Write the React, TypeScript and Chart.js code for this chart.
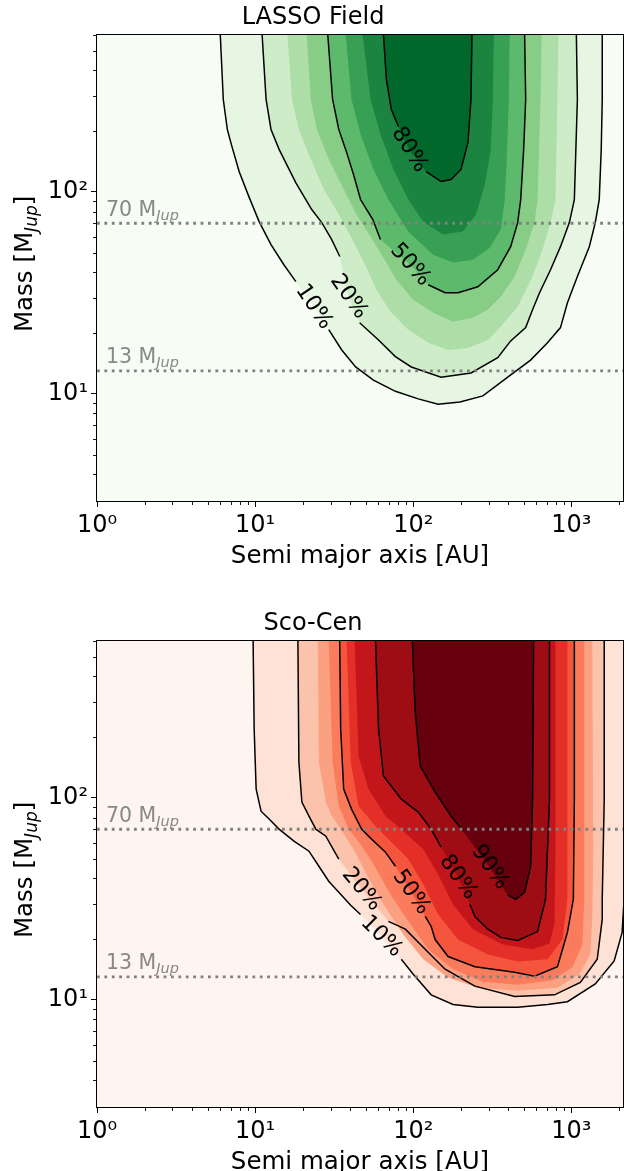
import React, { useEffect, useRef } from 'react';
import { Chart, registerables } from 'chart.js';

Chart.register(...registerables);
Chart.defaults.font.family = "'DejaVu Sans', sans-serif";
Chart.defaults.color = '#000';

type Pt = [number, number] | null;

// ---------- axes ----------
const X_MIN = 1;
const X_MAX = 2120;
const Y_MIN = 2.95;
const Y_MAX = 600;
const MASS_LINES = [70, 13];
const MASS_LINE_TEXT = ['70', '13'];

// ---------- LASSO Field (semi-major axis [AU], mass [MJup]); null = label gap ----------
const LASSO_LEVELS = [10, 20, 30, 40, 50, 60, 70, 80];
const LASSO_LINE_LEVELS = [10, 20, 50, 80];
const LASSO_COLORS = ['#f7fcf5', '#e7f6e2', '#ceecc7', '#aedea7', '#88cd86', '#5db96b', '#37a055', '#1b8440', '#00682a'];
const LASSO_10: Pt[] = [[6.02,600],[6.29,287],[6.67,204],[7.07,172],[7.93,126],[9.17,94],[10.6,71.3],[12.6,54.8],[15.2,43.6],[18.1,36.0],null,[29.2,20.8],[35.3,16.5],[43.2,13.6],[56.0,11.7],[77.1,10.3],[107.5,9.45],[143.6,8.9],[197.5,9.13],[275.6,9.78],[395.8,12.1],[552,14.7],[706,17.9],[853,21.3],[944,28.3],[1091,38.1],[1298,53.6],[1416,70.5],[1500,91.7],[1544,162],[1567,287],[1567,600]];
const LASSO_20: Pt[] = [[11.07,600],[11.73,287],[12.6,204],[14.2,162],[18.1,111],[22.8,81.8],[26.4,70.5],[30.5,58.1],[34.3,47.9],null,[45.8,22.5],[60.3,18.5],[77.1,15.3],[97.1,13.6],[150,12.1],[232,12.7],[342,15.1],[413,18.3],[514,21.3],[568,26.1],[629,31.7],[738,41.2],[853,53.6],[971,70.5],[1044,91.7],[1091,287],[1075,600]];
const LASSO_30: Pt[] = [[16.0,600],[17.1,287],[18.9,204],[22.5,145],[27.2,103],[33.8,77.3],[40.2,60.1],[48.5,45.2],[58.5,32.8],[71.7,25.5],[93.0,20.8],[124.3,17.9],[166,16.5],[222,16.9],[296,18.5],[357.5,21.5],[457.5,27.0],[568,38.1],[657,51.8],[738,70.5],[793,91.7],[816,287],[828,600]];
const LASSO_40: Pt[] = [[21.2,600],[22.5,287],[24.6,204],[29.2,145],[36.3,103],[43.7,77.3],[53.7,60.1],[64.8,47.3],[78.2,36.8],[100,29.3],[133.6,25.2],[178.5,22.8],[238.5,23.8],[296,26.1],[357.5,30.3],[438,38.1],[514,51.8],[585,70.5],[611,91.7],[638,287],[648,600]];
const LASSO_50: Pt[] = [[28.8,600],[30.9,287],[33.8,204],[37.4,162],[41.9,122],[46.4,91.7],[55.5,73.0],[62.0,58.1],null,[124.3,34.7],[159,31.7],[192,31.7],[256,33.9],[342,41.2],[413,53.6],[457.5,70.5],[478,91.7],[499,162],[514,287],[506,600]];
const LASSO_60: Pt[] = [[37.4,600],[40.7,287],[46.4,193],[56.0,129],[69.6,91.7],[93.0,63.7],[133.6,48.9],[178.5,44.7],[238.5,46.2],[305,53.0],[357.5,65.1],[379,91.7],[390,145],[402,287],[407,600]];
const LASSO_70: Pt[] = [[47.8,600],[53.7,287],[62.0,193],[74.9,129],[93.0,91.7],[115.6,71.3],[154.4,61.5],[206.3,63.7],[249,77.3],[283.7,108.9],[309,162],[318.6,287],[323,600]];
const LASSO_80: Pt[] = [[64.8,600],[67.6,361],[72.7,256],[80.5,211],null,[120.7,126],[150,112.6],[173.4,115.2],[200.4,129.2],[221.8,176],[231.7,287],[235,600]];
const LASSO_CONTOURS = [LASSO_10, LASSO_20, LASSO_30, LASSO_40, LASSO_50, LASSO_60, LASSO_70, LASSO_80];
const LASSO_LABELS = [
  { level: 10, a: 23.5, m: 27.0, rot: 56 },
  { level: 20, a: 39.0, m: 30.3, rot: 55 },
  { level: 50, a: 95.7, m: 43.6, rot: 48 },
  { level: 80, a: 94.4, m: 162, rot: 58 },
];

// ---------- Sco-Cen ----------
const SCO_LEVELS = [10, 20, 30, 40, 50, 60, 70, 80, 90];
const SCO_LINE_LEVELS = [10, 20, 50, 80, 90];
const SCO_COLORS = ['#fff5f0', '#fee2d5', '#fcc3ac', '#fca082', '#fb7c5c', '#f6553d', '#e32f27', '#c3161b', '#9e0d14', '#67000d'];
const SCO_10: Pt[] = [[9.71,600],[9.86,219.5],[10.15,110.7],[10.9,86.0],[12.25,78.6],[14.16,70.1],[17.6,61.1],[21.9,54.5],[25.3,45.9],[29.2,38.7],[33.8,34.1],[40.2,29.4],[46.4,26.5],null,[84.0,15.9],[100,13.4],[129.8,10.6],[178.5,9.5],[256,9.2],[457.5,9.2],[706.5,9.5],[943.6,9.8],[1416,12.0],[1864,15.6],[2094,21.6],[2154,31.5],[2600,60],[2600,600]];
const SCO_20: Pt[] = [[18.64,600],[18.91,150.6],[19.75,95.4],[21.9,81.3],[24.2,70.1],[28.0,64.7],[33.8,49.8],null,[69.6,24.5],[89.1,22.4],[119,17.8],[159,14.2],[245.4,11.7],[438,10.4],[782,10.6],[1139,12.2],[1457,15.9],[1567,25.1],[1567,31.5],[1613,98.7],[1613,600]];
const SCO_30: Pt[] = [[24.9,600],[25.3,150.6],[28.0,95.4],[30.5,81.3],[34.8,70.1],[41.9,55.8],[50.6,41.9],[64.8,29.7],[86.5,21.1],[115.6,15.9],[166,12.9],[256,11.5],[457.5,11.1],[816,11.5],[1123,13.4],[1317,16.8],[1356,25.1],[1375,55.8],[1356,600]];
const SCO_40: Pt[] = [[29.2,600],[30.9,150.6],[33.8,91.1],[39.0,70.1],[46.4,59.0],[56.0,47.0],[71.7,33.3],[93.0,24.5],[124.3,17.8],[178.5,14.2],[275.6,12.3],[457.5,11.9],[760,12.5],[1015,14.5],[1173,18.8],[1207,31.5],[1207,600]];
const SCO_50: Pt[] = [[34.25,600],[34.75,219.5],[36.3,110.7],[40.7,88.1],[47.1,70.1],[52.1,64.7],[66.7,53.9],[77.1,45.9],null,[119,25.9],[129.8,23.1],[137.5,19.9],[166,16.4],[245.4,14.6],[438,13.7],[585,13.1],[816.5,14.6],[943.6,21.6],[1029,31.5],[1044,98.7],[1044,600]];
const SCO_60: Pt[] = [[37.9,600],[40.2,150.6],[45.1,91.1],[58.5,71.7],[74.9,59.0],[93.0,49.8],[115.6,37.4],[143.6,26.5],[191.9,19.9],[296.3,16.8],[457.5,15.5],[706.5,15.9],[878,19.9],[943.6,31.5],[943.6,600]];
const SCO_70: Pt[] = [[42.6,600],[45.1,161.3],[52.1,110.7],[66.7,81.3],[86.5,68.5],[115.6,55.8],[143.6,41.9],[178.5,29.7],[238.5,22.4],[368,18.8],[568.5,17.8],[727,19.0],[782,23.7],[793,55.8],[793,600]];
const SCO_80: Pt[] = [[57.7,600],[60.3,219.5],[64.8,128.4],[84.0,98.7],[107.5,85.1],[129.8,70.1],[150,57.1],null,[228.3,29.7],[245.4,25.9],[296.3,22.4],[357.5,20.4],[457.5,19.7],[611.3,21.8],[686,31.5],[727,98.7],[727,600]];
const SCO_90: Pt[] = [[98.6,600],[102.9,266.6],[110.7,143.9],[137.5,106.9],[173.4,81.3],[206.3,68.5],null,[395.8,33.0],[444.4,31.5],[506.2,34.1],[552.3,45.9],[568.5,98.7],[576.8,600]];
const SCO_CONTOURS = [SCO_10, SCO_20, SCO_30, SCO_40, SCO_50, SCO_60, SCO_70, SCO_80, SCO_90];
const SCO_LABELS = [
  { level: 10, a: 62.9, m: 20.6, rot: 45 },
  { level: 20, a: 47.1, m: 35.3, rot: 50 },
  { level: 50, a: 97.1, m: 34.1, rot: 55 },
  { level: 80, a: 191.9, m: 40.5, rot: 55 },
  { level: 90, a: 305, m: 45.4, rot: 55 },
];

type Label = { level: number; a: number; m: number; rot: number };

const SUP: Record<string, string> = { '0': '\u2070', '1': '\u00b9', '2': '\u00b2', '3': '\u00b3' };
const isDecade = (v: number) => { const l = Math.log10(v); return Math.abs(l - Math.round(l)) < 1e-9; };
const decadeLabel = (v: number) => (isDecade(v) ? '10' + String(Math.round(Math.log10(v))).split('').map((c) => SUP[c] || c).join('') : '');
const isMinor = (v: number) => {
  const e = Math.floor(Math.log10(v) + 1e-9);
  const s = v / Math.pow(10, e);
  return Math.abs(s - Math.round(s)) < 1e-6 && Math.round(s) > 1 && Math.round(s) < 10;
};

function buildDatasets(levels: number[], contours: Pt[][], lineLevels: number[], colors: string[], labels: Label[]) {
  const ds: any[] = [];
  MASS_LINES.forEach((m) =>
    ds.push({ data: [{ x: X_MIN, y: m }, { x: X_MAX, y: m }], borderColor: '#808080', borderWidth: 2.8, borderDash: [2.8, 4.6], borderCapStyle: 'butt', fill: false, pointRadius: 0 })
  );
  levels.forEach((lv, i) => {
    if (!lineLevels.includes(lv)) return;
    const lab = labels.find((l) => l.level === lv);
    ds.push({
      data: contours[i].map((p) => (p ? { x: p[0], y: p[1] } : { x: lab ? lab.a : 1, y: null })),
      borderColor: '#000', borderWidth: 1.5, fill: false, pointRadius: 0, spanGaps: false,
    });
  });
  for (let i = levels.length - 1; i >= 0; i--) {
    const lab = labels.find((l) => l.level === levels[i]);
    const pts = contours[i]
      .map((p) => (p ? { x: p[0], y: p[1] } : lab ? { x: lab.a, y: lab.m } : null))
      .filter((p) => p !== null);
    ds.push({ data: pts, borderWidth: 0, borderColor: 'rgba(0,0,0,0)', backgroundColor: colors[i + 1], fill: 'shape', pointRadius: 0 });
  }
  return ds;
}

function drawSub(ctx: CanvasRenderingContext2D, main: string, sub: string, x: number, y: number, size: number, subSize: number, shift: number, color: string) {
  ctx.fillStyle = color;
  ctx.textAlign = 'left';
  ctx.textBaseline = 'alphabetic';
  ctx.font = `${size}px 'DejaVu Sans'`;
  ctx.fillText(main, x, y);
  const w = ctx.measureText(main).width;
  ctx.font = `italic ${subSize}px 'DejaVu Sans'`;
  ctx.fillText(sub, x + w, y + shift);
}

function makeOverlay(bg: string, labels: Label[]) {
  return {
    id: 'overlay',
    beforeDraw(chart: any) {
      const { ctx, chartArea: ca } = chart;
      ctx.save();
      ctx.fillStyle = bg;
      ctx.fillRect(ca.left, ca.top, ca.right - ca.left, ca.bottom - ca.top);
      ctx.restore();
    },
    afterDatasetsDraw(chart: any) {
      const { ctx, chartArea: ca, scales } = chart;
      const xs = scales.x;
      const ys = scales.y;
      ctx.save();
      // contour labels
      ctx.font = "22px 'DejaVu Sans'";
      ctx.fillStyle = '#000';
      ctx.textAlign = 'center';
      ctx.textBaseline = 'middle';
      labels.forEach((l) => {
        ctx.save();
        ctx.translate(xs.getPixelForValue(l.a), ys.getPixelForValue(l.m));
        ctx.rotate((l.rot * Math.PI) / 180);
        ctx.fillText(l.level + '%', 0, 0);
        ctx.restore();
      });
      // mass limit labels
      MASS_LINES.forEach((m, i) => {
        drawSub(ctx, MASS_LINE_TEXT[i] + ' M', 'Jup', ca.left + 9, ys.getPixelForValue(m) - 7.5, 20.5, 14.5, 4, '#888888');
      });
      // frame
      const L = Math.round(ca.left) - 0.5, R = Math.round(ca.right) + 0.5;
      const T = Math.round(ca.top) - 0.5, B = Math.round(ca.bottom) + 0.5;
      ctx.strokeStyle = '#000';
      ctx.lineWidth = 1;
      ctx.strokeRect(L, T, R - L, B - T);
      // minor ticks
      ctx.lineWidth = 0.9;
      ctx.beginPath();
      xs.ticks.forEach((t: any) => {
        if (!isMinor(t.value) || t.value < X_MIN || t.value > X_MAX) return;
        const p = Math.round(xs.getPixelForValue(t.value)) + 0.5;
        ctx.moveTo(p, B);
        ctx.lineTo(p, B + 3.5);
      });
      ys.ticks.forEach((t: any) => {
        if (!isMinor(t.value) || t.value < Y_MIN || t.value > Y_MAX) return;
        const p = Math.round(ys.getPixelForValue(t.value)) + 0.5;
        ctx.moveTo(L, p);
        ctx.lineTo(L - 3.5, p);
      });
      ctx.stroke();
      // y-axis title
      ctx.save();
      ctx.translate(31.5, (ca.top + ca.bottom) / 2 - 4);
      ctx.rotate(-Math.PI / 2);
      ctx.font = "24.5px 'DejaVu Sans'";
      const w1 = ctx.measureText('Mass [M').width;
      const w3 = ctx.measureText(']').width;
      ctx.font = "italic 17px 'DejaVu Sans'";
      const w2 = ctx.measureText('Jup').width;
      const x0 = -(w1 + w2 + w3) / 2;
      ctx.fillStyle = '#000';
      ctx.textAlign = 'left';
      ctx.textBaseline = 'alphabetic';
      ctx.font = "24.5px 'DejaVu Sans'";
      ctx.fillText('Mass [M', x0, 0);
      ctx.font = "italic 17px 'DejaVu Sans'";
      ctx.fillText('Jup', x0 + w1, 5);
      ctx.font = "24.5px 'DejaVu Sans'";
      ctx.fillText(']', x0 + w1 + w2, 0);
      ctx.restore();
      ctx.restore();
    },
  };
}

function ContourPanel(props: { top: number; title: string; levels: number[]; contours: Pt[][]; lineLevels: number[]; colors: string[]; labels: Label[] }) {
  const ref = useRef<HTMLCanvasElement>(null);
  useEffect(() => {
    if (!ref.current) return;
    const { title, levels, contours, lineLevels, colors, labels } = props;
    const majorColor = (c: any) => (c.tick && isDecade(c.tick.value) ? '#000' : 'rgba(0,0,0,0)');
    const chart = new Chart(ref.current, {
      type: 'line',
      data: { datasets: buildDatasets(levels, contours, lineLevels, colors, labels) },
      options: {
        responsive: false,
        animation: false,
        devicePixelRatio: 1,
        layout: { padding: { left: 0, right: 1, top: 0, bottom: 0 } },
        elements: { line: { tension: 0 }, point: { radius: 0 } },
        plugins: {
          legend: { display: false },
          tooltip: { enabled: false },
          title: { display: true, text: title, font: { size: 24, weight: 'normal' }, color: '#000', padding: { top: 3, bottom: 3 } },
        },
        scales: {
          x: {
            type: 'logarithmic',
            min: X_MIN,
            max: X_MAX,
            afterFit: (s: any) => { s.height = 105; },
            border: { display: false },
            grid: { drawOnChartArea: false, drawTicks: true, tickLength: 6, tickWidth: 1, tickColor: majorColor },
            ticks: { autoSkip: false, maxRotation: 0, padding: 4, font: { size: 24 }, color: '#000', callback: (v: any) => decadeLabel(Number(v)) },
            title: { display: true, text: 'Semi major axis [AU]', font: { size: 24.5 }, color: '#000', padding: { top: 0, bottom: 34.8 } },
          },
          y: {
            type: 'logarithmic',
            min: Y_MIN,
            max: Y_MAX,
            afterFit: (s: any) => { s.width = 97; },
            border: { display: false },
            grid: { drawOnChartArea: false, drawTicks: true, tickLength: 6, tickWidth: 1, tickColor: majorColor },
            ticks: { autoSkip: false, padding: 3, font: { size: 24 }, color: '#000', callback: (v: any) => decadeLabel(Number(v)) },
          },
        },
      } as any,
      plugins: [makeOverlay(colors[0], labels) as any],
    });
    return () => chart.destroy();
  }, []);
  return (
    <div style={{ position: 'absolute', left: 0, top: props.top, width: 627, height: 606 }}>
      <canvas ref={ref} width={627} height={606} style={{ width: 627, height: 606, display: 'block' }} />
    </div>
  );
}

export default function App() {
  useEffect(() => {
    document.body.style.margin = '0';
  }, []);
  return (
    <div style={{ position: 'absolute', left: 0, top: 0, width: 627, height: 1171, overflow: 'hidden', background: '#fff' }}>
      <ContourPanel top={0} title="LASSO Field" levels={LASSO_LEVELS} contours={LASSO_CONTOURS} lineLevels={LASSO_LINE_LEVELS} colors={LASSO_COLORS} labels={LASSO_LABELS} />
      <ContourPanel top={606} title="Sco-Cen" levels={SCO_LEVELS} contours={SCO_CONTOURS} lineLevels={SCO_LINE_LEVELS} colors={SCO_COLORS} labels={SCO_LABELS} />
    </div>
  );
}
